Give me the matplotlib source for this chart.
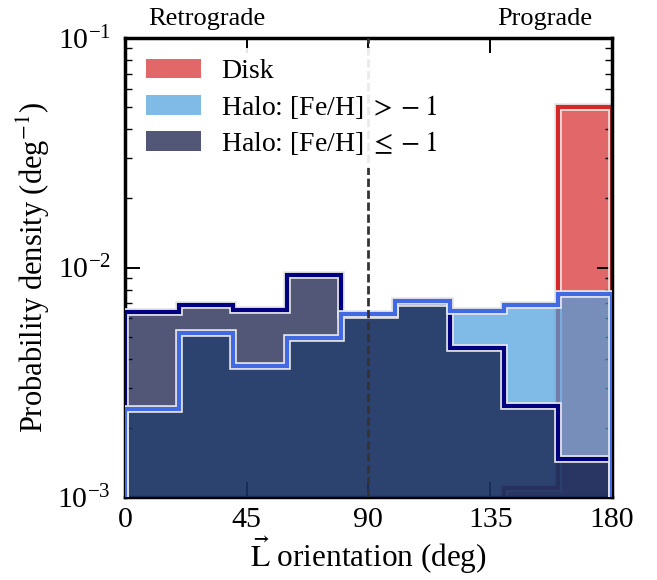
import numpy as np
import matplotlib
matplotlib.use('Agg')
import matplotlib.pyplot as plt
import matplotlib.patheffects as pe
from matplotlib.patches import Patch

plt.rcParams['font.family'] = 'serif'
plt.rcParams['font.serif'] = ['Liberation Serif', 'DejaVu Serif']
plt.rcParams['mathtext.fontset'] = 'stix'

# angular momentum orientation bins (deg) and normalised counts
edges = np.arange(0, 181, 20)
disk = np.array([0, 0, 0, 0, 0, 0, 0, 1.1e-3, 5.0e-2])
halo_rich = np.array([2.43e-3, 5.2e-3, 3.73e-3, 4.91e-3, 6.3e-3, 7.17e-3, 6.49e-3, 6.87e-3, 7.64e-3])
halo_poor = np.array([6.41e-3, 6.87e-3, 6.53e-3, 9.27e-3, 6.2e-3, 7.0e-3, 4.46e-3, 2.50e-3, 1.46e-3])

labels = ['Disk', r'Halo: [Fe/H]$\;>\:-\:1$', r'Halo: [Fe/H]$\;\leq\:-\:1$']
fill_cols = ['#d62728', '#4a9fde', '#09103e']
line_cols = ['#d62728', '#4169e1', '#000080']

floor = 1e-5


def fill(ax, vals, col, z):
    v = np.where(vals > 0, vals, floor)
    ax.stairs(v, edges, baseline=floor, fill=True, facecolor=col, alpha=0.7,
              linewidth=0, zorder=z)


def outline(ax, vals, col, z):
    v = np.where(vals > 0, vals, floor)
    ax.stairs(v, edges, baseline=floor, color=col, linewidth=3, zorder=z,
              path_effects=[pe.Stroke(linewidth=5.5, foreground='#e6e6e6'), pe.Normal()])


fig = plt.figure(figsize=(6.57, 5.8), dpi=100)
ax = fig.add_axes([0.190, 0.143, 0.7415, 0.7915])

fill(ax, disk, fill_cols[0], 1)
outline(ax, disk, line_cols[0], 2)
fill(ax, halo_rich, fill_cols[1], 3)
fill(ax, halo_poor, fill_cols[2], 4)
outline(ax, halo_poor, line_cols[2], 5)
outline(ax, halo_rich, line_cols[1], 6)

ax.axvline(90, color='#333333', lw=2, ls=(0, (3, 1.3)), zorder=7)

ax.set_yscale('log')
ax.set_xlim(0, 180)
ax.set_ylim(1e-3, 1e-1)
ax.set_xticks([0, 45, 90, 135, 180])

ax.tick_params(which='both', direction='in', top=True, right=True, labelsize=21.5)
ax.tick_params(which='major', length=11, width=1.4, pad=7)
ax.tick_params(which='minor', length=5, width=1)
ax.tick_params(axis='y', which='major', pad=10)
for s in ax.spines.values():
    s.set_linewidth(2.5)

ax.set_xlabel(r'$\vec{\rm L}$ orientation (deg)', fontsize=22.5, labelpad=1)
ax.set_ylabel(r'Probability density (deg$^{-1}$)', fontsize=22)

ax.text(0.047, 1.018, 'Retrograde', transform=ax.transAxes, fontsize=19, va='bottom')
ax.text(0.96, 1.018, 'Prograde', transform=ax.transAxes, fontsize=19, va='bottom', ha='right')

handles = [Patch(facecolor=c, alpha=0.7, edgecolor='none', label=l)
           for c, l in zip(fill_cols, labels)]
leg = ax.legend(handles=handles, loc='upper left', fontsize=20, handlelength=2.0,
                handleheight=0.7, handletextpad=0.72, labelspacing=0.3,
                borderaxespad=0.35, frameon=True, framealpha=0.9,
                edgecolor='none', fancybox=False)
leg.set_zorder(10)

fig.savefig('out.png', dpi=100)
